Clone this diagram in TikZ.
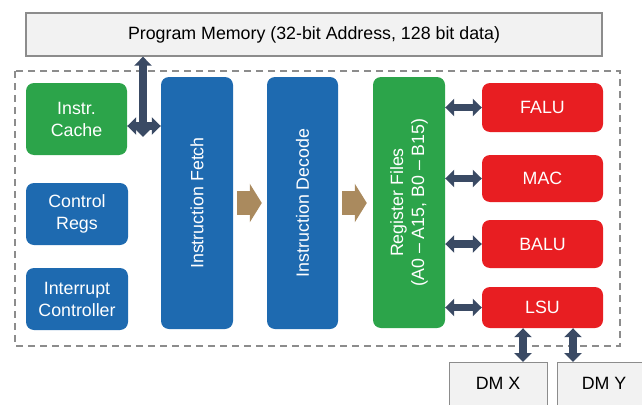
\documentclass[tikz,border=0pt]{standalone}
\usepackage{fontspec}
\setmainfont{Liberation Sans}
\usetikzlibrary{arrows.meta}
\definecolor{cgreen}{RGB}{44,164,74}
\definecolor{cblue}{RGB}{30,106,176}
\definecolor{cred}{RGB}{232,30,34}
\definecolor{cgrayfill}{RGB}{242,242,242}
\definecolor{cgrayline}{RGB}{140,140,140}
\definecolor{carrow}{RGB}{58,74,100}
\definecolor{ctan}{RGB}{170,138,94}
\newcommand{\bigfont}{\fontsize{17.8}{22}\selectfont}
\tikzset{
  blk/.style={rounded corners=8pt, text=white, align=center, inner sep=0pt,
    font=\bigfont},
  gblk/.style={blk, fill=cgreen},
  bblk/.style={blk, fill=cblue},
  rblk/.style={blk, fill=cred},
  membox/.style={draw=cgrayline, fill=cgrayfill, line width=1.3pt, inner sep=0pt,
    font=\bigfont},
  dbl/.style={carrow, line width=7.5pt, {Triangle[width=17pt,length=9pt]}-{Triangle[width=17pt,length=9pt]}},
  tanarrow/.style={ctan, line width=24pt, -{Triangle[width=38pt,length=12pt]}},
  vlbl/.style={text=white, rotate=90, align=center, font=\bigfont},
}
\begin{document}
\begin{tikzpicture}[x=1pt,y=-1pt]
\useasboundingbox (0,0) rectangle (642,404);
% outer dashed region
\draw[cgrayline, line width=1.4pt, dash pattern=on 7pt off 5pt] (15,71) rectangle (620,346);
% program memory
\node[membox, minimum width=576pt, minimum height=43pt] (pm) at (314,34.5) {Program Memory (32-bit Address, 128 bit data)};
% left column
\node[gblk, minimum width=101pt, minimum height=72pt] (cache) at (76.5,119) {Instr.\\Cache};
\node[bblk, minimum width=102pt, minimum height=62pt] (ctrl) at (77,214) {Control\\Regs};
\node[bblk, minimum width=102pt, minimum height=62pt] (intr) at (77,299) {Interrupt\\Controller};
% pipeline
\node[bblk, minimum width=72pt, minimum height=252pt] (fetch) at (197,203) {};
\node[vlbl] (fetchlbl) at (fetch.center) {Instruction Fetch};
\node[bblk, minimum width=71pt, minimum height=252pt] (decode) at (302.5,203) {};
\node[vlbl] (decodelbl) at (decode.center) {Instruction Decode};
\node[gblk, minimum width=72pt, minimum height=251pt] (rf) at (409,202.5) {};
\node[vlbl, font=\fontsize{17.8}{21}\selectfont] (rflbl) at (rf.center) {Register Files\\(A0 -- A15, B0 -- B15)};
% functional units
\node[rblk, minimum width=121pt, minimum height=49pt] (falu) at (542.5,107.5) {FALU};
\node[rblk, minimum width=121pt, minimum height=47pt] (mac) at (542.5,178.5) {MAC};
\node[rblk, minimum width=121pt, minimum height=48pt] (balu) at (542.5,244) {BALU};
\node[rblk, minimum width=121pt, minimum height=41pt] (lsu) at (542.5,307.5) {LSU};
% data memories
\node[membox, minimum width=98pt, minimum height=46pt, anchor=north west] (dmx) at (449,362) {};
\node[font=\bigfont] (dmxlbl) at (498,383) {DM X};
\node[membox, minimum width=95pt, minimum height=46pt, anchor=north west] (dmy) at (557,362) {};
\node[font=\bigfont] (dmylbl) at (604,383) {DM Y};
% junction
\coordinate (jn) at (143,126);
% connectors
\draw[dbl] (pm.south -| jn) -- ([yshift=-11pt]jn);
\draw[dbl] (cache.east |- jn) -- (fetch.west |- jn);
\draw[dbl] (rf.east |- falu) -- (falu.west);
\draw[dbl] (rf.east |- mac) -- (mac.west);
\draw[dbl] (rf.east |- balu) -- (balu.west);
\draw[dbl] (rf.east |- lsu) -- (lsu.west);
\draw[dbl] (lsu.south -| 523,0) -- (dmx.north -| 523,0);
\draw[dbl] (lsu.south -| 573,0) -- (dmy.north -| 573,0);
\draw[tanarrow] ([xshift=4pt]fetch.east) -- ([xshift=-5pt]decode.west);
\draw[tanarrow] ([xshift=4pt]decode.east) -- ([xshift=-6pt]rf.west |- decode.east);
\end{tikzpicture}
\end{document}
